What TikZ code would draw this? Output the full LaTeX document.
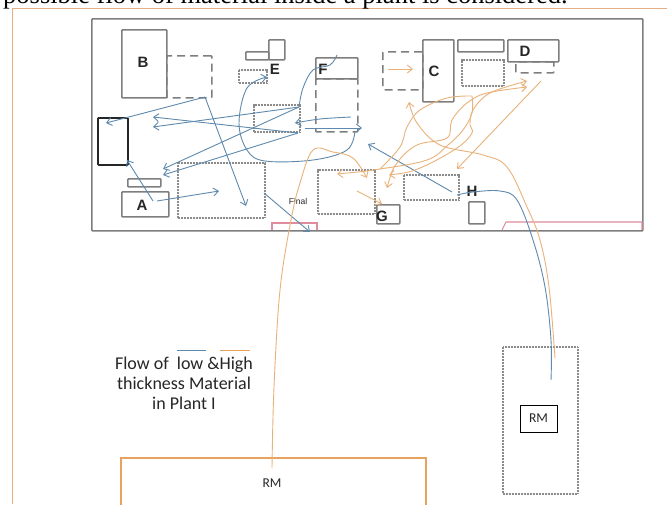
\documentclass[tikz,border=0pt]{standalone}
\usepackage{fontspec}
\setmainfont{Liberation Serif}
\newfontfamily\arialf{Liberation Sans}
\newfontfamily\calf{Carlito}
\usetikzlibrary{arrows.meta}
\definecolor{wallgray}{HTML}{7E7E7E}
\definecolor{flowblue}{HTML}{5F8AAE}
\definecolor{floworange}{HTML}{E9B27A}
\definecolor{rmorange}{HTML}{E8A25E}
\definecolor{dockpink}{HTML}{E08C9C}
\definecolor{pageedge}{HTML}{E5AE85}
\tikzset{
  x=1pt,y=-1pt,
  place/.style={draw=wallgray,line width=1.6pt,rounded corners=0.8pt,inner sep=0pt,anchor=north west},
  solidbox/.style={place},
  dashbox/.style={place,dash pattern=on 8pt off 5pt},
  dotbox/.style={place,line width=1.7pt,draw=wallgray!90,dash pattern=on 1pt off 0.5pt,rounded corners=0pt},
  tag/.style={font=\arialf\bfseries\fontsize{15}{15}\selectfont,text=black!85,inner sep=0pt},
  lowflow/.style={draw=flowblue,line width=0.9pt},
  highflow/.style={draw=floworange,line width=0.9pt},
  tip/.style={-{Straight Barb[length=5pt,width=8pt]}},
  backtip/.style={{Straight Barb[length=5pt,width=8pt]}-},
  bothtip/.style={{Straight Barb[length=5pt,width=8pt]}-{Straight Barb[length=5pt,width=8pt]}},
}
\newcommand{\boxat}[6]{\node[#1,minimum width=#5 pt - #3 pt,minimum height=#6 pt - #4 pt] (#2) at (#3,#4) {};}
\begin{document}
\begin{tikzpicture}
\useasboundingbox (0,0) rectangle (667,504);
\clip (0,0) rectangle (667,504);
\fill[white] (0,0) rectangle (667,504);
% page edge and cut-off sentence
\draw[pageedge,line width=1pt] (12,504) -- (12,8) -- (667,8);
\node[anchor=base west,inner sep=0pt,font=\fontsize{26.5}{27}\selectfont] (sentence) at (3,3) {possible flow of material inside a plant is considered.};
% plant wall
\boxat{place,line width=1.7pt}{wall}{91}{18}{642}{230}
% docks
\draw[dockpink,line width=1.1pt] (272,230) -- (272,223) -- (317,223) -- (317,230);
\draw[dockpink,line width=1.1pt] (502,230) -- (506,222) -- (642,222) -- (642,230);
% machines
\boxat{dashbox}{Bd}{166}{55}{211}{97}
\boxat{solidbox}{B}{121}{29}{166}{97}
\boxat{solidbox}{E1}{268}{39}{284}{59}
\boxat{solidbox}{E2}{245}{51}{268}{59}
\boxat{dotbox}{E3}{238}{69}{266}{82}
\boxat{dashbox}{Fd}{315}{78}{357}{131}
\boxat{solidbox}{F}{315}{57}{357}{78}
\boxat{dotbox}{mid}{253}{104}{299}{131}
\boxat{place,draw=black!85,line width=1.8pt}{thick}{97}{117}{127}{164}
\boxat{solidbox}{A2}{127}{178}{160}{186}
\boxat{solidbox}{A}{121}{191}{168}{216}
\boxat{dotbox}{big}{177}{162}{264}{217}
\boxat{dotbox}{Gb}{317}{169}{374}{213}
\boxat{dashbox}{Cd}{382}{51}{422}{89}
\boxat{solidbox}{C}{422}{39}{453}{101}
\boxat{solidbox}{C2}{457}{39}{503}{51}
\boxat{dotbox}{C3}{461}{59}{503}{85}
\boxat{dashbox}{Dd}{515}{61}{553}{72}
\boxat{solidbox}{D}{507}{39}{558}{61}
\boxat{solidbox}{G}{376}{204}{399}{223}
\boxat{dotbox}{Hb}{403}{174}{458}{199}
\boxat{solidbox}{H2}{468}{201}{484}{223}
% letters
\node[tag] (lB) at (143,62) {B};
\node[tag] (lE) at (275,69) {E};
\node[tag] (lF) at (323,69) {F};
\node[tag] (lA) at (142,205) {A};
\node[tag] (lC) at (434,71) {C};
\node[tag] (lD) at (525,51) {D};
\node[tag] (lG) at (382,216) {G};
\node[tag] (lH) at (472,191) {H};
\node[font=\arialf\fontsize{8.5}{9}\selectfont,inner sep=0pt,text=black!85] (final) at (298,201) {Final};
% raw material stores
\boxat{dotbox}{rmr}{502}{346}{577}{493}
\node[draw=black,line width=0.7pt,minimum width=37pt,minimum height=27pt,inner sep=0pt,font=\calf\fontsize{13.5}{13.5}\selectfont,text=black!85] (rmi) at (538.5,418.5) {RM};
\boxat{place,draw=rmorange,rounded corners=0pt}{rmb}{120}{457}{425}{520}
\node[font=\calf\fontsize{13.5}{13.5}\selectfont,inner sep=0pt,text=black!85] (rmt) at (272,483) {RM};
% caption
\node[font=\calf\fontsize{18}{20}\selectfont,align=center,inner sep=0pt,text=black!85] (cap) at (184,383) {Flow of\ \ low \&High\\thickness Material\\in Plant I};
\coordinate (kb1) at (177,350); \coordinate (kb2) at (206,350);
\coordinate (ko1) at (220,350); \coordinate (ko2) at (250,350);
\draw[lowflow] (kb1) -- (kb2);
\draw[draw=rmorange,line width=0.9pt] (ko1) -- (ko2);
% blue flows
\coordinate (p1) at (205,97);
\coordinate (p2) at (106,123);
\coordinate (p3) at (246,206);
\coordinate (p4) at (153,201);
\coordinate (p5) at (127,160);
\coordinate (p6) at (157,201);
\coordinate (p7) at (219,191);
\coordinate (p8) at (299,107);
\coordinate (p9) at (153,117);
\coordinate (p10) at (298,133);
\coordinate (p11) at (153,127);
\coordinate (p12) at (163,169);
\coordinate (p13) at (163,175);
\coordinate (p14) at (305,128);
\coordinate (p15) at (362,128);
\coordinate (p16) at (264,193);
\coordinate (p17) at (310,232);
\coordinate (p18) at (452,192);
\coordinate (p19) at (368,144);
\draw[lowflow,tip] (p1) -- (p2);
\draw[lowflow,tip] (p1) -- (p3);
\draw[lowflow,tip] (p4) -- (p5);
\draw[lowflow,tip] (p6) -- (p7);
\draw[lowflow,tip] (p8) -- (p11);
\draw[lowflow,tip] (p10) -- (p9);
\draw[lowflow,tip] (p8) -- (p12);
\draw[lowflow,tip] (p10) -- (p13);
\draw[lowflow,tip] (p14) -- (p15);
\draw[lowflow,tip] (p16) -- (p17);
\draw[lowflow,tip] (p18) -- (p19);
\draw[lowflow,tip] plot[smooth,tension=0.6] coordinates {(351,117) (320,119) (295,123)};
\draw[lowflow] plot[smooth,tension=0.6] coordinates {(337,55) (330,65) (313,70) (303,88) (299,107)};
\draw[lowflow,tip] plot[smooth,tension=0.6] coordinates {(355,131) (347,150) (313,160) (265,161) (247,150) (239,123) (247,88) (267,77)};
\draw[lowflow] plot[smooth,tension=0.6] coordinates {(457,195) (473,192) (500,191) (517,200) (533,240) (545,287) (551,340) (551,380)};
% orange flows
\coordinate (q1) at (388,69);
\coordinate (q2) at (413,69);
\coordinate (q3) at (357,191);
\coordinate (q4) at (382,204);
\coordinate (q5) at (541,81);
\coordinate (q6) at (457,169);
\draw[highflow,tip] (q1) -- (q2);
\draw[highflow,tip] (q3) -- (q4);
\draw[highflow,tip] (q5) -- (q6);
\draw[highflow,tip] plot[smooth,tension=0.6] coordinates {(272,468) (274,387) (280,290) (291,220) (300,183) (313,150) (333,152) (353,158) (367,178)};
\draw[highflow,backtip] plot[smooth,tension=0.6] coordinates {(337,174) (380,169) (427,160) (448,145) (463,130) (472,113) (472,96)};
\draw[highflow] plot[smooth,tension=0.6] coordinates {(472,96) (447,98) (420,110) (407,127) (400,147) (380,169)};
\draw[highflow,bothtip] plot[smooth,tension=0.6] coordinates {(387,188) (397,163) (417,145) (447,138) (452,120) (467,103) (487,93) (527,87)};
\draw[highflow,bothtip] plot[smooth,tension=0.6] coordinates {(389,175) (420,168) (457,148) (472,133) (470,125) (473,110) (490,93) (527,81)};
\draw[highflow,tip] plot[smooth,tension=0.6] coordinates {(555,358) (549,287) (540,240) (527,207) (507,167) (483,155) (440,145) (417,123) (409,102)};
\end{tikzpicture}
\end{document}
